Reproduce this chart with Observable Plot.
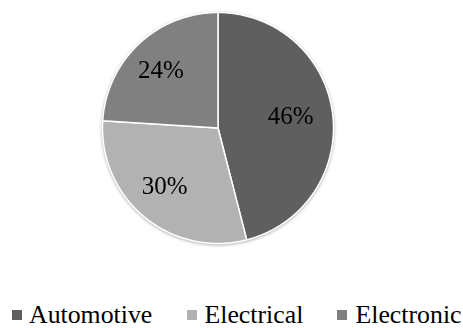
<!DOCTYPE html>
<html>
<head>
<meta charset="utf-8">
<script src="https://cdn.jsdelivr.net/npm/d3@7"></script>
<script src="https://cdn.jsdelivr.net/npm/@observablehq/plot@0.6"></script>
<style>
  html, body { margin: 0; padding: 0; background: #fff; }
  #wrap { position: relative; width: 463px; height: 328px; overflow: hidden; }
  #wrap svg { position: absolute; left: 0; top: 0; }
  .item { position: absolute; font-family: 'Liberation Serif'; font-size: 25.8px; line-height: 30px; height: 30px; color: #000; white-space: nowrap; }
  .sw { position: absolute; width: 10px; height: 10.5px; }
</style>
</head>
<body>
<div id="wrap"></div>
<script>
const categories = ["Automotive", "Electrical", "Electronic"];
const shares = [46, 30, 24];
const colors = ["#5f5f5f", "#b2b2b2", "#808080"];

// layout
const W = 463, H = 328, cx = 217.5, cy = 127.5, R = 115.5;

const arcs = d3.pie().sort(null).value(d => d)(shares);
const slicePts = [];
arcs.forEach((a, i) => {
  const cat = categories[i];
  slicePts.push({cat, x: 0, y: 0});
  const n = Math.max(2, Math.ceil((a.endAngle - a.startAngle) / (Math.PI / 360)));
  for (let k = 0; k <= n; k++) {
    const t = a.startAngle + (a.endAngle - a.startAngle) * k / n;
    slicePts.push({cat, x: Math.sin(t), y: Math.cos(t)});
  }
  slicePts.push({cat, x: 0, y: 0});
});
const labels = arcs.map((a, i) => {
  const m = (a.startAngle + a.endAngle) / 2;
  return {cat: categories[i], text: shares[i] + "%", x: 0.67 * Math.sin(m), y: 0.67 * Math.cos(m)};
});

const chart = Plot.plot({
  width: W, height: H,
  marginTop: 0, marginRight: 0, marginBottom: 0, marginLeft: 0,
  x: {domain: [-cx / R, (W - cx) / R], axis: null},
  y: {domain: [-(H - cy) / R, cy / R], axis: null},
  color: {domain: categories, range: colors},
  style: {fontFamily: "'Liberation Serif'", background: "transparent"},
  marks: [
    Plot.line(slicePts, {x: "x", y: "y", z: "cat", fill: "cat", stroke: "white", strokeWidth: 1.5, strokeLinejoin: "round", curve: "linear"}),
    Plot.text(labels, {x: "x", y: "y", text: "text", fontSize: 25, fontFamily: "Liberation Serif", fill: "black", textAnchor: "middle", lineAnchor: "middle", dx: -4, dy: -2})
  ]
});
chart.style.filter = "drop-shadow(0.5px 1px 1.5px rgba(0,0,0,0.3))";
const wrap = document.getElementById("wrap");
wrap.appendChild(chart);

const swLeft = [11.7, 186.7, 336.7];
const txtLeft = [29, 204.5, 355.5];
categories.forEach((c, i) => {
  const sw = document.createElement("div");
  sw.className = "sw";
  sw.style.left = swLeft[i] + "px";
  sw.style.top = "309.5px";
  sw.style.background = colors[i];
  wrap.appendChild(sw);
  const t = document.createElement("div");
  t.className = "item";
  t.style.left = txtLeft[i] + "px";
  t.style.top = "300px";
  t.textContent = c;
  wrap.appendChild(t);
});
</script>
</body>
</html>
